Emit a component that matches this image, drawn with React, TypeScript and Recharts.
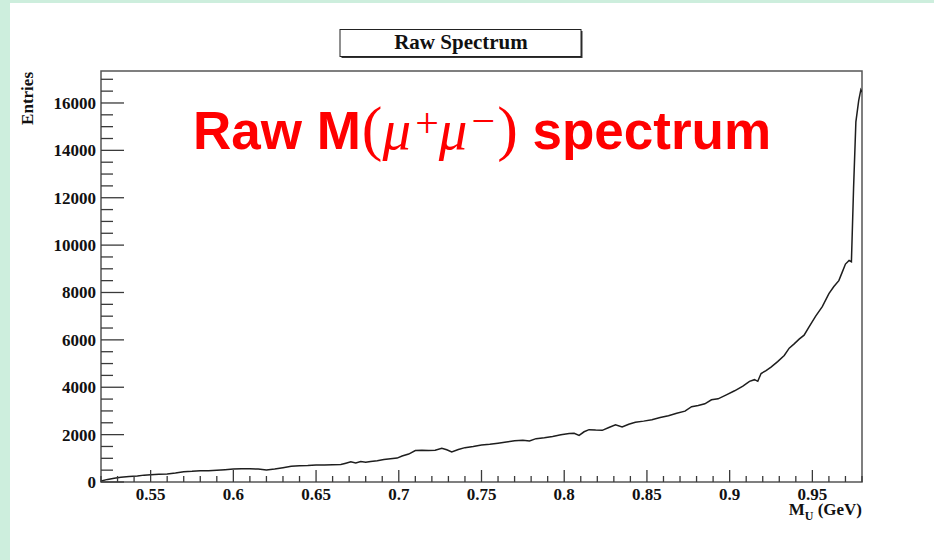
import { LineChart, Line, XAxis, YAxis, ReferenceArea } from "recharts";

// dimuon invariant mass (GeV) and histogram entries
const massGeV = [
  0.52, 0.524, 0.528, 0.532, 0.537, 0.542, 0.546, 0.55, 0.555, 0.56, 0.565, 0.57,
  0.575, 0.58, 0.585, 0.59, 0.595, 0.6, 0.605, 0.61, 0.615, 0.62, 0.625, 0.63,
  0.635, 0.64, 0.645, 0.65, 0.655, 0.66, 0.665, 0.668, 0.671, 0.674, 0.677, 0.68,
  0.683, 0.687, 0.691, 0.695, 0.699, 0.702, 0.706, 0.71, 0.714, 0.718, 0.722, 0.726,
  0.729, 0.732, 0.736, 0.74, 0.745, 0.75, 0.755, 0.76, 0.765, 0.77, 0.775, 0.779,
  0.783, 0.788, 0.793, 0.798, 0.803, 0.806, 0.809, 0.812, 0.815, 0.819, 0.823, 0.827,
  0.831, 0.835, 0.839, 0.843, 0.848, 0.853, 0.858, 0.863, 0.868, 0.873, 0.877, 0.881,
  0.885, 0.889, 0.893, 0.898, 0.903, 0.908, 0.912, 0.915, 0.917, 0.919, 0.922, 0.925,
  0.929, 0.933, 0.936, 0.939, 0.942, 0.945, 0.948, 0.952, 0.956, 0.96, 0.963, 0.966,
  0.968, 0.97, 0.9722, 0.9736, 0.9749, 0.9763, 0.978, 0.9793, 0.98,
];
const entries = [
  40, 110, 160, 200, 230, 250, 290, 310, 330, 340, 380, 430,
  450, 480, 475, 500, 520, 545, 560, 560, 545, 510, 545, 600,
  660, 690, 700, 720, 720, 730, 735, 790, 850, 800, 860, 830,
  870, 900, 950, 980, 1010, 1100, 1180, 1330, 1340, 1330, 1345, 1420,
  1360, 1270, 1370, 1450, 1500, 1560, 1590, 1640, 1690, 1740, 1760, 1730,
  1830, 1870, 1920, 1990, 2050, 2060, 1970, 2120, 2210, 2190, 2180, 2300,
  2410, 2320, 2440, 2520, 2570, 2630, 2720, 2800, 2900, 2990, 3180, 3230,
  3300, 3470, 3510, 3680, 3850, 4050, 4250, 4320, 4250, 4580, 4700, 4850,
  5080, 5340, 5650, 5830, 6030, 6200, 6550, 7000, 7400, 7950, 8250, 8500,
  8850, 9200, 9350, 9300, 12400, 15200, 16100, 16560, 16460,
];

const xMajor = [0.55, 0.6, 0.65, 0.7, 0.75, 0.8, 0.85, 0.9, 0.95];
const xMajorLabels = ["0.55", "0.6", "0.65", "0.7", "0.75", "0.8", "0.85", "0.9", "0.95"];
const yMajor = [0, 2000, 4000, 6000, 8000, 10000, 12000, 14000, 16000];
const yMajorLabels = ["0", "2000", "4000", "6000", "8000", "10000", "12000", "14000", "16000"];

const X_MIN = 0.52;
const X_MAX = 0.98;
const Y_MAX = 17350;

const steps = (from: number, to: number, step: number) => {
  const out: number[] = [];
  for (let v = from; v <= to + step / 2; v += step) out.push(Math.round(v * 1000) / 1000);
  return out;
};
const xTicks = steps(X_MIN, X_MAX, 0.01);
const yTicks = steps(0, 17000, 500);

const data = massGeV.map((m, i) => ({ m, n: entries[i] }));

const SERIF = "'Liberation Serif', 'Times New Roman', serif";
const SANS = "'Liberation Sans', Arial, sans-serif";
const AXIS = "#3a3a3a";

const XTick = (props: any) => {
  const { x, y, payload } = props;
  const idx = xMajor.findIndex((v) => Math.abs(v - payload.value) < 1e-6);
  const major = idx >= 0;
  return (
    <g>
      <line x1={x} x2={x} y1={y} y2={y - (major ? 12 : 6)} stroke={AXIS} strokeWidth={1.3} />
      {major && (
        <text x={x} y={y + 18} textAnchor="middle" fontFamily={SERIF} fontWeight="bold" fontSize={17} fill="#111">
          {xMajorLabels[idx]}
        </text>
      )}
    </g>
  );
};

const YTick = (props: any) => {
  const { x, y, payload } = props;
  const idx = yMajor.indexOf(payload.value);
  const major = idx >= 0;
  return (
    <g>
      <line x1={x} x2={x + (major ? 23 : 12)} y1={y} y2={y} stroke={AXIS} strokeWidth={1.3} />
      {major && (
        <text x={x - 5} y={y + 6} textAnchor="end" fontFamily={SERIF} fontWeight="bold" fontSize={17} fill="#111">
          {yMajorLabels[idx]}
        </text>
      )}
    </g>
  );
};

export default function App() {
  return (
    <div style={{ position: "absolute", left: 0, top: 0, width: 934, height: 560, background: "#cdeedd" }}>
      <div style={{ position: "absolute", left: 10, top: 3, width: 924, height: 557, background: "#fff" }} />
      <div style={{ position: "absolute", left: 0, top: 0 }}>
        <LineChart width={934} height={560} data={data} margin={{ top: 71, right: 72, bottom: 40, left: 0 }}>
          <XAxis
            dataKey="m"
            type="number"
            domain={[X_MIN, X_MAX]}
            allowDataOverflow
            ticks={xTicks}
            interval={0}
            tick={<XTick />}
            tickLine={false}
            axisLine={false}
            tickSize={0}
            tickMargin={0}
            height={38}
          />
          <YAxis
            type="number"
            domain={[0, Y_MAX]}
            allowDataOverflow
            ticks={yTicks}
            interval={0}
            tick={<YTick />}
            tickLine={false}
            axisLine={false}
            tickSize={0}
            tickMargin={0}
            width={101}
          />
          <ReferenceArea x1={X_MIN} x2={X_MAX} y1={0} y2={Y_MAX} fill="none" stroke="#555" strokeWidth={1.5} />
          <Line
            dataKey="n"
            type="linear"
            stroke="#1e1e1e"
            strokeWidth={1.5}
            dot={false}
            isAnimationActive={false}
          />
        </LineChart>
      </div>
      <svg width={934} height={560} style={{ position: "absolute", left: 0, top: 0, pointerEvents: "none" }}>
        {/* histogram title box with drop shadow */}
        <rect x={341.5} y={31} width={241} height={27} fill="#333" />
        <rect x={340} y={29.5} width={241} height={27} fill="#fff" stroke="#222" strokeWidth={1} />
        <text x={461} y={49} textAnchor="middle" fontFamily={SERIF} fontWeight="bold" fontSize={21} fill="#111">
          Raw Spectrum
        </text>

        <text x={33} y={72} transform="rotate(-90 33 72)" textAnchor="end" fontFamily={SERIF} fontWeight="bold" fontSize={17} fill="#111">
          Entries
        </text>

        <text x={862} y={515} textAnchor="end" fontFamily={SERIF} fontWeight="bold" fontSize={17} fill="#111">
          M<tspan fontSize={12} dy={5}>U</tspan>
          <tspan dy={-5}> (GeV)</tspan>
        </text>

        <text x={193} y={148.5} fill="#ff0000" fontFamily={SANS} fontWeight="bold" fontSize={53}>
          Raw M
          <tspan fontFamily={SERIF} fontWeight="normal" fontSize={62} dx={1}>(</tspan>
          <tspan fontFamily={SERIF} fontWeight="normal" fontStyle="italic" fontSize={57}>μ</tspan>
          <tspan fontFamily={SERIF} fontWeight="normal" fontSize={42} dx={4} dy={-12}>+</tspan>
          <tspan fontFamily={SERIF} fontWeight="normal" fontStyle="italic" fontSize={57} dy={12}>μ</tspan>
          <tspan fontFamily={SERIF} fontWeight="normal" fontSize={42} dx={4} dy={-14}>−</tspan>
          <tspan fontFamily={SERIF} fontWeight="normal" fontSize={62} dx={2} dy={14}>)</tspan>
          <tspan> spectrum</tspan>
        </text>
      </svg>
    </div>
  );
}
